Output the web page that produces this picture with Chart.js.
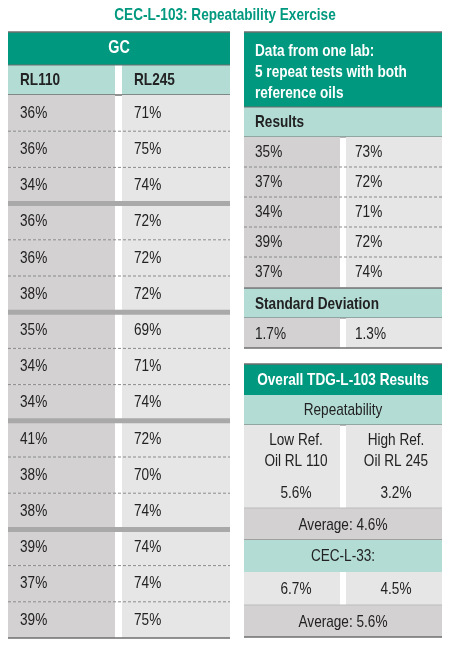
<!DOCTYPE html>
<html><head><meta charset="utf-8">
<script src="https://cdn.jsdelivr.net/npm/chart.js@4/dist/chart.umd.min.js"></script>
<style>html,body{margin:0;padding:0;background:#fff}canvas{display:block}</style>
</head><body>
<canvas id="c" width="450" height="646"></canvas>
<script>
const title = "CEC-L-103: Repeatability Exercise";
const gcHeader = "GC";
const gcColumns = ["RL110", "RL245"];
const gcRL110 = ["36%","36%","34%","36%","36%","38%","35%","34%","34%","41%","38%","38%","39%","37%","39%"];
const gcRL245 = ["71%","75%","74%","72%","72%","72%","69%","71%","74%","72%","70%","74%","74%","74%","75%"];
const labHeader = ["Data from one lab:", "5 repeat tests with both", "reference oils"];
const labRL110 = ["35%","37%","34%","39%","37%"];
const labRL245 = ["73%","72%","71%","72%","74%"];
const stdDev = ["1.7%","1.3%"];
const overallTitle = "Overall TDG-L-103 Results";
const repLabels = [["Low Ref.","Oil RL 110"],["High Ref.","Oil RL 245"]];
const repValues = ["5.6%","3.2%"];
const repAverage = "Average: 4.6%";
const cecValues = ["6.7%","4.5%"];
const cecAverage = "Average: 5.6%";

const TEAL="#00997f", LT="#b3dcd5", DG="#d3d1d1", LG="#e6e6e6", LINE="#6e6e6e";
const F="'Liberation Sans','Arial',sans-serif";

const tablePlugin = {
  id:'table',
  afterDraw(chart){
    const ctx=chart.ctx, sx=chart.scales.x, sy=chart.scales.y;
    const X=v=>sx.getPixelForValue(v), Y=v=>sy.getPixelForValue(v);
    const rect=(x0,y0,x1,y1,c)=>{ctx.fillStyle=c;ctx.fillRect(X(x0),Y(y0),X(x1)-X(x0),Y(y1)-Y(y0));};
    const line=(x0,x1,y,c,w,dash)=>{ctx.save();ctx.strokeStyle=c;ctx.lineWidth=w;ctx.setLineDash(dash||[]);ctx.beginPath();ctx.moveTo(X(x0),Y(y));ctx.lineTo(X(x1),Y(y));ctx.stroke();ctx.restore();};
    const text=(s,x,y,al,bold,size,c)=>{ctx.save();ctx.fillStyle=c||"#222";ctx.textAlign=al;ctx.textBaseline="middle";ctx.font=(bold?"bold ":"")+size+"px "+F;ctx.translate(X(x),Y(y));ctx.scale(0.8,1);ctx.fillText(s,0,0);ctx.restore();};
    ctx.save();
    text(title,225,15,"center",true,17,TEAL);
    const L0=8,L1=230,Lm0=115,Lm1=122;
    rect(L0,32,L1,65,TEAL); text(gcHeader,(L0+L1)/2,48,"center",true,18,"#fff");
    rect(L0,65,Lm0,95,LT); rect(Lm1,65,L1,95,LT);
    text(gcColumns[0],20,80,"left",true,17,"#222"); text(gcColumns[1],134,80,"left",true,17,"#222");
    line(L0,L1,32,LINE,1.5); line(L0,L1,65,LINE,1); line(L0,L1,95,LINE,1.5);
    const rh=(638-95)/gcRL110.length;
    gcRL110.forEach((v,i)=>{
      const y0=95+i*rh;
      rect(L0,y0,Lm0,y0+rh,DG); rect(Lm1,y0,L1,y0+rh,LG);
      text(v,20,y0+rh/2,"left",false,17); text(gcRL245[i],134,y0+rh/2,"left",false,17);
    });
    for(let i=1;i<gcRL110.length;i++){
      const y=95+i*rh;
      if(i%3===0) line(L0,L1,y,"#a9a9a9",5); else line(L0,L1,y,"#8a8a8a",1,[3,2]);
    }
    line(L0,L1,638,LINE,1.5);
    const R0=244,R1=442,Rm0=340,Rm1=346;
    rect(R0,32,R1,107,TEAL);
    labHeader.forEach((s,i)=>text(s,255,51+i*21,"left",true,17,"#fff"));
    rect(R0,107,R1,137,LT); text("Results",255,122,"left",true,17);
    line(R0,R1,32,LINE,1.5); line(R0,R1,107,LINE,1); line(R0,R1,137,LINE,1);
    labRL110.forEach((v,i)=>{
      const y0=137+i*30;
      rect(R0,y0,Rm0,y0+30,DG); rect(Rm1,y0,R1,y0+30,LG);
      text(v,255,y0+15,"left",false,17); text(labRL245[i],355,y0+15,"left",false,17);
      if(i>0) line(R0,R1,y0,"#8a8a8a",1,[3,2]);
    });
    rect(R0,288,R1,318,LT); text("Standard Deviation",255,304,"left",true,17);
    line(R0,R1,288,LINE,1.5); line(R0,R1,318,LINE,1);
    rect(R0,318,Rm0,348,DG); rect(Rm1,318,R1,348,LG);
    text(stdDev[0],255,334,"left",false,17); text(stdDev[1],355,334,"left",false,17);
    line(R0,R1,348,LINE,1.5);
    const cL=(R0+Rm0)/2+4, cR=(Rm1+R1)/2+2, cM=(R0+R1)/2;
    rect(R0,364,R1,395,TEAL); text(overallTitle,cM,380,"center",true,17,"#fff");
    line(R0,R1,364,LINE,1.5);
    rect(R0,395,R1,425,LT); text("Repeatability",cM,410,"center",false,17);
    line(R0,R1,425,LINE,1);
    rect(R0,425,Rm0,508,LG); rect(Rm1,425,R1,508,LG);
    text(repLabels[0][0],cL,440,"center",false,17); text(repLabels[0][1],cL,461,"center",false,17);
    text(repLabels[1][0],cR,440,"center",false,17); text(repLabels[1][1],cR,461,"center",false,17);
    text(repValues[0],cL,493,"center",false,17); text(repValues[1],cR,493,"center",false,17);
    rect(R0,508,R1,540,DG); text(repAverage,cM,525,"center",false,17);
    line(R0,R1,508,"#bdbdbd",1); line(R0,R1,540,LINE,1);
    rect(R0,540,R1,572,LT); text("CEC-L-33:",cM,556,"center",false,17);
    rect(R0,572,Rm0,605,LG); rect(Rm1,572,R1,605,LG);
    text(cecValues[0],cL,589,"center",false,17); text(cecValues[1],cR,589,"center",false,17);
    rect(R0,605,R1,637,DG); text(cecAverage,cM,622,"center",false,17);
    line(R0,R1,605,"#bdbdbd",1); line(R0,R1,637,LINE,1.5);
    ctx.restore();
  }
};

new Chart(document.getElementById('c'),{
  type:'line',
  data:{labels:[],datasets:[]},
  options:{
    responsive:false, animation:false, devicePixelRatio:1,
    layout:{padding:0},
    plugins:{legend:{display:false},tooltip:{enabled:false}},
    scales:{
      x:{type:'linear',min:0,max:450,display:false,offset:false},
      y:{type:'linear',min:0,max:646,reverse:true,display:false,offset:false}
    }
  },
  plugins:[tablePlugin]
});
</script>
</body></html>
